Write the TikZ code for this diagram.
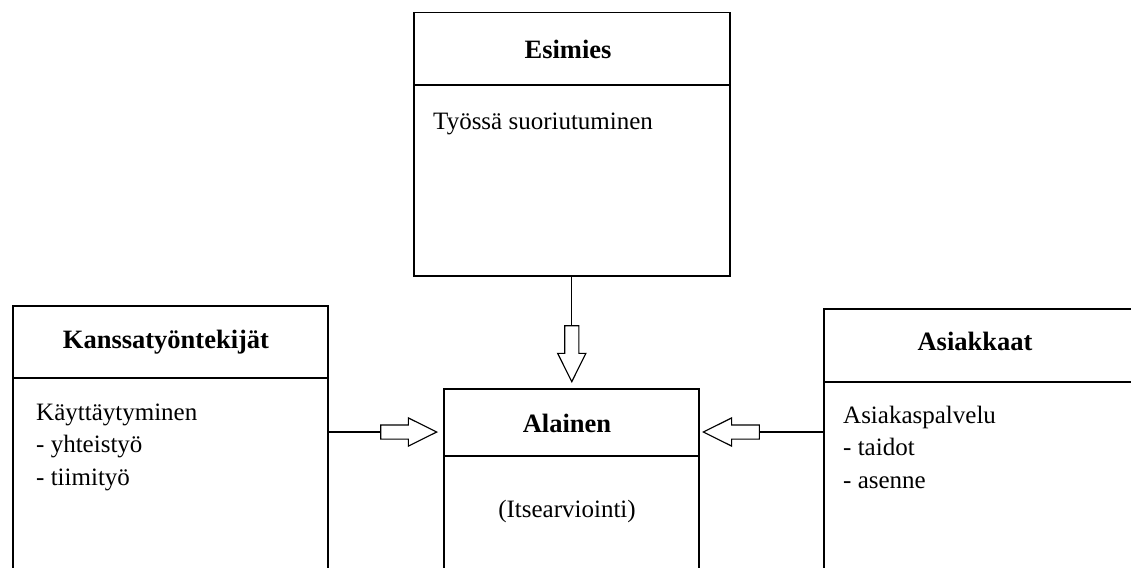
\documentclass[tikz,border=0pt]{standalone}
\usepackage{fontspec}
\setmainfont{Liberation Serif}
\usetikzlibrary{shapes.arrows}

\begin{document}
\begin{tikzpicture}[x=1pt, y=-1pt,
    frame/.style={draw, line width=1.5pt, anchor=north west, inner sep=0pt},
    rule/.style={line width=1.5pt},
    title/.style={anchor=base, inner sep=0pt, font=\fontsize{26.5}{30}\selectfont\bfseries},
    body/.style={anchor=base west, align=left, inner sep=0pt, font=\fontsize{25}{32.5}\selectfont},
    hollow/.style={single arrow, draw, line width=1.2pt, inner xsep=0pt, inner ysep=6.5pt, minimum height=56pt, single arrow head extend=7pt, single arrow tip angle=53},
    link/.style={line width=1.3pt}
  ]
  \useasboundingbox (0,0) rectangle (1131,567);
  \clip (0,0) rectangle (1131,567);

  % Laatikot
  \node[frame, minimum width=316pt, minimum height=263pt] (es) at (413,12) {};
  \node[frame, minimum width=315pt, minimum height=320pt] (kan) at (12,305) {};
  \node[frame, minimum width=255pt, minimum height=250pt] (al) at (443,388) {};
  \node[frame, minimum width=312pt, minimum height=300pt] (asi) at (823,308) {};
  \draw[rule] (es.west |- 0,85) -- (es.east |- 0,85);
  \draw[rule] (kan.west |- 0,378) -- (kan.east |- 0,378);
  \draw[rule] (al.west |- 0,456) -- (al.east |- 0,456);
  \draw[rule] (asi.west |- 0,382) -- (asi.east |- 0,382);

  % Otsikot ja tekstit (monirivisissä ankkuri on viimeisen rivin perusviiva)
  \node[title] (est) at (568,59) {Esimies};
  \node[body] (esb) at (433,129) {Työssä suoriutuminen};
  \node[title] (kant) at (166,348) {Kanssatyöntekijät};
  \node[body] (kanb) at (36,485) {Käyttäytyminen\\- yhteistyö\\- tiimityö};
  \node[title] (alt) at (567,432) {Alainen};
  \node[body, anchor=base] (alb) at (567,517) {(Itsearviointi)};
  \node[title] (asit) at (975,350) {Asiakkaat};
  \node[body] (asib) at (843,488) {Asiakaspalvelu\\- taidot\\- asenne};

  % Nuolet
  \node[hollow, rotate=-90, anchor=tip] (dn) at (es.south |- 0,383) {};
  \node[hollow, anchor=tip] (rt) at (438,432) {};
  \node[hollow, rotate=180, anchor=tip] (lf) at (702,432) {};
  \draw[link] (dn.tail |- es.south) -- (dn.tail);
  \draw[link] (kan.east |- rt.tail) -- (rt.tail);
  \draw[link] (asi.west |- lf.tail) -- (lf.tail);
\end{tikzpicture}
\end{document}
